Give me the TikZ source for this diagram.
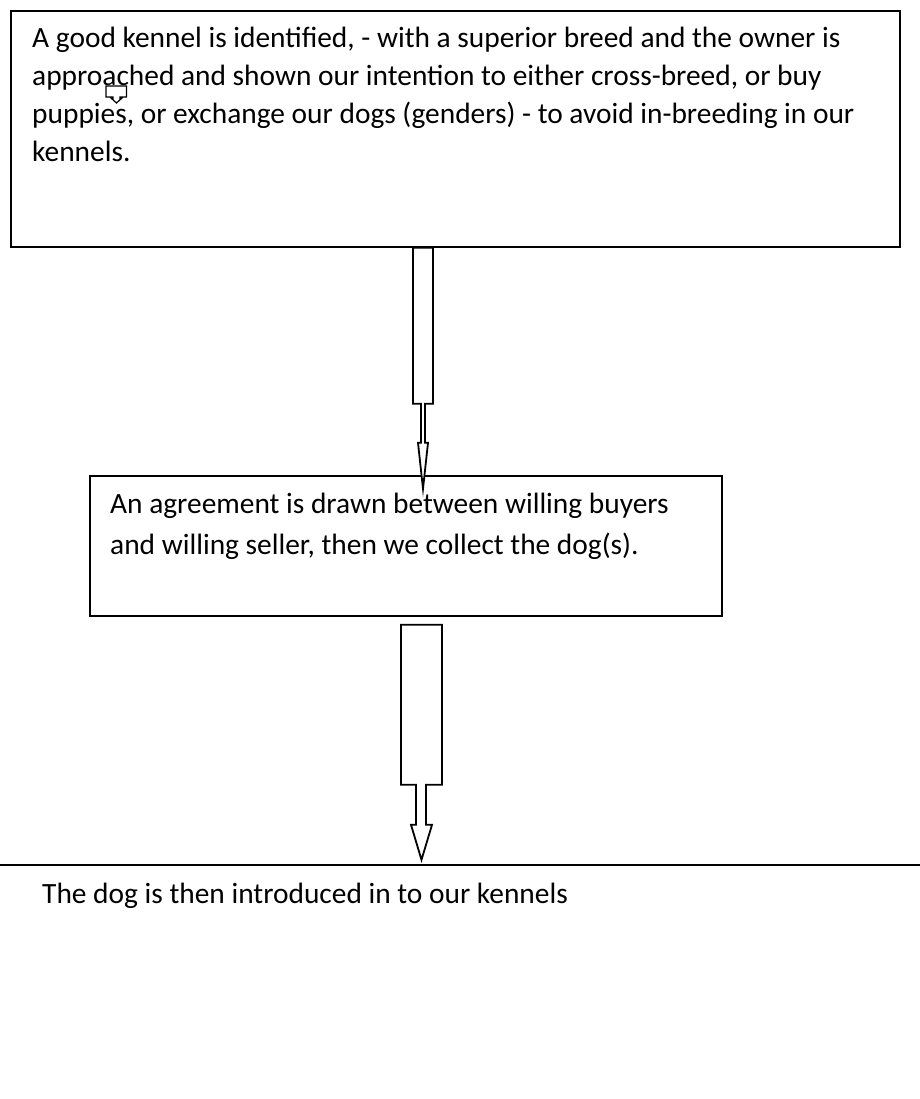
\documentclass[tikz,border=0pt]{standalone}
\usepackage{fontspec}
\setmainfont{Carlito}
\usepackage{tikz}
\usetikzlibrary{arrows.meta,positioning,calc}

\begin{document}
\begin{tikzpicture}[
  x=1pt, y=-1pt,
  box/.style={draw, line width=1.8pt, inner sep=0pt, anchor=north west},
  txt/.style={inner sep=0pt, anchor=base west, align=left, font=\fontsize{29.4}{41}\selectfont},
  blockarr/.style={draw, line width=1.8pt, fill=white, line join=miter}
]
  \useasboundingbox[fill=white] (0,0) rectangle (919,1099);

  % boxes
  \node[box, minimum width=889pt, minimum height=236pt] (kennel) at (10,10) {};
  \node[box, minimum width=632pt, minimum height=140pt] (agree) at (89,475) {};
  \node[box, minimum width=960pt, minimum height=300pt] (intro) at (-20,864) {};

  % texts (anchored on the baseline of the last line)
  \node[txt, font=\fontsize{29.4}{38.1}\selectfont] (kenneltxt) at (32,161.5) {A good kennel is identified, - with a superior breed and the owner is\\
    approached and shown our intention to either cross-breed, or buy\\
    puppies, or exchange our dogs (genders) - to avoid in-breeding in our\\
    kennels.};
  \node[txt] (agreetxt) at (110,554) {An agreement is drawn between willing buyers\\
    and willing seller, then we collect the dog(s).};
  \node[txt] (introtxt) at (42,903) {The dog is then introduced in to our kennels};

  % small marker over the second line
  \draw[blockarr, line width=1.2pt] (106,86) -- (106,97) -- (113,97) -- (113,98.5) -- (111.5,98.5)
    -- (116.5,103) -- (121.5,98.5) -- (120,98.5) -- (120,97) -- (126.5,97) -- (126.5,86) -- cycle;

  % block arrows
  \coordinate (a1) at ($(kennel.south west)+(403,0)$);
  \draw[blockarr] (a1) -- ++(0,156) -- ++(8,0) -- ++(0,39) -- ++(-3,0) -- ++(5,46)
    -- ++(5,-46) -- ++(-3,0) -- ++(0,-39) -- ++(8,0) -- ++(0,-156) -- cycle;
  \coordinate (a2) at ($(agree.south west)+(312,8)$);
  \draw[blockarr] (a2) -- ++(0,160) -- ++(15,0) -- ++(0,40) -- ++(-5,0) -- ++(10.5,35)
    -- ++(10.5,-35) -- ++(-6,0) -- ++(0,-40) -- ++(16,0) -- ++(0,-160) -- cycle;
\end{tikzpicture}
\end{document}
